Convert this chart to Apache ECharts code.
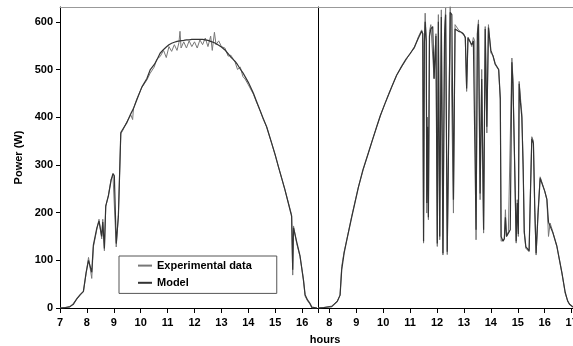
<!DOCTYPE html>
<html><head><meta charset="utf-8">
<script src="https://cdn.jsdelivr.net/npm/echarts@6/dist/echarts.min.js"></script>
<style>html,body{margin:0;padding:0;background:#fff}#c{width:573px;height:346px}</style>
</head><body><div id="c"></div>
<script>
// Day 1 (left panel)
const day1Time = [7.00,7.20,7.37,7.50,7.62,7.75,7.87,7.97,8.06,8.12,8.18,8.24,8.37,8.45,8.51,8.55,8.59,8.65,8.70,8.80,8.90,8.97,9.02,9.09,9.17,9.26,9.33,9.48,9.63,9.70,9.73,9.86,10.04,10.23,10.35,10.50,10.60,10.72,10.85,10.95,11.05,11.15,11.25,11.35,11.42,11.46,11.50,11.60,11.70,11.80,11.90,12.00,12.10,12.20,12.30,12.40,12.50,12.60,12.66,12.74,12.80,12.90,13.00,13.13,13.25,13.35,13.51,13.60,13.70,13.80,13.88,14.00,14.19,14.30,14.43,14.55,14.68,14.87,15.00,15.12,15.25,15.36,15.50,15.61,15.65,15.68,15.80,15.92,16.05,16.11,16.20,16.29,16.36,16.55];
const day1Exp = [0,1,2,10,18,27,34,72,106,110,62,128,165,186,190,145,186,120,212,237,270,278,282,128,195,365,372,390,405,395,418,439,462,478,492,505,522,527,540,525,548,538,552,540,556,580,545,558,545,560,548,558,545,562,552,566,548,570,540,578,552,560,548,545,528,530,515,500,505,485,480,468,448,432,415,396,380,345,320,296,270,248,218,195,69,172,135,108,60,25,15,8,0,0];
const day1Model = [0,1,3,8,19,28,35,74,100,104,75,132,168,182,186,150,180,125,214,235,268,282,277,135,192,368,370,388,407,410,418,437,463,481,499,510,520,534,542,547,552,555,557,559,560,560,561,561,562,562,563,563,563,563,563,562,561,559,558,556,554,551,547,541,533,526,517,510,501,493,485,473,450,434,415,398,380,345,321,296,270,248,217,192,80,168,138,110,58,28,17,10,2,0];
// Day 2 (right panel)
const day2Time = [7.58,7.80,8.09,8.30,8.40,8.46,8.55,8.65,8.83,9.08,9.25,9.45,9.60,9.76,9.90,10.07,10.20,10.32,10.50,10.69,10.85,11.00,11.16,11.31,11.43,11.47,11.50,11.53,11.56,11.60,11.62,11.65,11.68,11.72,11.77,11.84,11.89,11.96,12.01,12.05,12.10,12.16,12.22,12.28,12.32,12.38,12.44,12.49,12.55,12.61,12.67,12.74,12.80,12.90,12.98,13.05,13.10,13.15,13.22,13.29,13.35,13.40,13.45,13.50,13.54,13.60,13.66,13.73,13.79,13.85,13.91,14.00,14.08,14.16,14.29,14.35,14.38,14.45,14.50,14.54,14.58,14.65,14.72,14.78,14.82,14.87,14.94,14.98,15.02,15.05,15.10,15.15,15.20,15.24,15.30,15.36,15.42,15.47,15.52,15.58,15.63,15.68,15.75,15.83,15.89,16.00,16.08,16.14,16.20,16.30,16.45,16.55,16.64,16.76,16.85,16.92,17.05];
const day2Exp = [0,1,4,15,27,87,118,143,192,254,288,325,352,380,404,429,448,464,488,506,520,534,545,569,583,575,136,560,618,560,199,400,185,580,594,597,482,575,129,615,143,625,111,580,629,112,111,632,628,199,594,590,583,578,576,565,454,568,560,548,567,560,143,580,604,227,500,157,590,367,594,534,530,510,499,436,140,136,145,206,150,160,164,524,480,338,136,227,150,475,440,408,300,157,125,122,118,250,359,350,200,111,200,275,272,245,227,150,178,160,129,100,73,31,15,8,2];
const day2Model = [0,1,3,14,27,80,115,143,190,253,290,325,352,380,404,429,447,464,488,507,522,533,547,566,580,575,140,555,600,560,220,380,190,570,585,590,480,570,135,600,150,610,115,570,615,118,120,620,615,227,585,588,580,578,574,568,460,566,562,552,560,560,164,575,595,240,480,164,585,380,588,540,528,512,500,440,150,140,145,190,150,157,164,515,470,338,140,220,155,470,430,400,290,160,128,125,120,240,355,345,210,115,195,272,270,245,228,180,178,158,130,100,73,33,15,8,2];
// Axis ticks
const day1Ticks = [7,8,9,10,11,12,13,14,15,16];
const day2Ticks = [8,9,10,11,12,13,14,15,16,17];
const yTicks = [0,100,200,300,400,500,600];
const seriesNames = ['Experimental data','Model'];

const pair = (t, v) => t.map((x, i) => [x, v[i]]);
const FONT = 'Liberation Sans, Arial, sans-serif';
const lbl = {fontFamily: FONT, fontWeight: 'bold', fontSize: 11, color: '#000'};
const d1min = 7, d1max = 16.59, d2min = 7.58, d2max = 17.05, ymax = 631;

const chart = echarts.init(document.getElementById('c'), null, {renderer: 'canvas'});
chart.setOption({
  animation: false,
  backgroundColor: '#fff',
  title: {text: 'hours', left: 320, top: 329, textAlign: 'center',
    textStyle: Object.assign({}, lbl, {fontSize: 11})},
  legend: {
    orient: 'vertical', left: 119, top: 256,
    padding: [4, 25, 5, 18], itemGap: 6, itemWidth: 14, itemHeight: 14,
    backgroundColor: '#fff', borderColor: '#555', borderWidth: 1,
    textStyle: Object.assign({}, lbl, {fontSize: 11}),
    itemStyle: {opacity: 0},
    data: seriesNames
  },
  grid: [
    {left: 60, right: 255, top: 7, bottom: 38, outerBoundsMode: 'none', containLabel: false},
    {left: 318, right: 0, top: 7, bottom: 38, outerBoundsMode: 'none', containLabel: false}
  ],
  xAxis: [
    {type: 'value', gridIndex: 0, min: d1min, max: d1max, interval: 1,
      axisLine: {lineStyle: {color: '#000', width: 1}},
      axisTick: {show: true, length: 5, lineStyle: {color: '#000'}, customValues: day1Ticks.concat([d1max])},
      axisLabel: Object.assign({margin: 9, customValues: day1Ticks}, lbl),
      splitLine: {show: false}},
    {type: 'value', gridIndex: 1, min: d2min, max: d2max,
      axisLine: {lineStyle: {color: '#000', width: 1}},
      axisTick: {show: true, length: 5, lineStyle: {color: '#000'}, customValues: day2Ticks},
      axisLabel: Object.assign({margin: 9, customValues: day2Ticks, hideOverlap: false}, lbl),
      splitLine: {show: false}},
    {type: 'value', gridIndex: 0, position: 'top', min: d1min, max: d1max,
      axisLine: {lineStyle: {color: '#999'}}, axisTick: {show: false}, axisLabel: {show: false}, splitLine: {show: false}},
    {type: 'value', gridIndex: 1, position: 'top', min: d2min, max: d2max,
      axisLine: {lineStyle: {color: '#999'}}, axisTick: {show: false}, axisLabel: {show: false}, splitLine: {show: false}}
  ],
  yAxis: [
    {type: 'value', gridIndex: 0, min: 0, max: ymax, interval: 100,
      name: 'Power (W)', nameLocation: 'middle', nameGap: 36,
      nameTextStyle: Object.assign({}, lbl, {fontSize: 11}),
      axisLine: {show: true, lineStyle: {color: '#000'}},
      axisTick: {show: true, length: 4, lineStyle: {color: '#000'}, customValues: yTicks},
      axisLabel: Object.assign({margin: 7, customValues: yTicks}, lbl),
      splitLine: {show: false}},
    {type: 'value', gridIndex: 1, min: 0, max: ymax,
      axisLine: {show: true, lineStyle: {color: '#000'}},
      axisTick: {show: false}, axisLabel: {show: false}, splitLine: {show: false}}
  ],
  series: [
    {name: 'Experimental data', type: 'line', xAxisIndex: 0, yAxisIndex: 0, data: pair(day1Time, day1Exp),
      symbol: 'none', lineStyle: {color: '#777', width: 1}, itemStyle: {color: '#777'}, z: 2},
    {name: 'Model', type: 'line', xAxisIndex: 0, yAxisIndex: 0, data: pair(day1Time, day1Model),
      symbol: 'none', lineStyle: {color: '#333', width: 1.2}, itemStyle: {color: '#444'}, z: 3},
    {name: 'Experimental data', type: 'line', xAxisIndex: 1, yAxisIndex: 1, data: pair(day2Time, day2Exp),
      symbol: 'none', lineStyle: {color: '#777', width: 1}, itemStyle: {color: '#777'}, z: 2},
    {name: 'Model', type: 'line', xAxisIndex: 1, yAxisIndex: 1, data: pair(day2Time, day2Model),
      symbol: 'none', lineStyle: {color: '#333', width: 1.2}, itemStyle: {color: '#444'}, z: 3}
  ]
});
</script></body></html>
